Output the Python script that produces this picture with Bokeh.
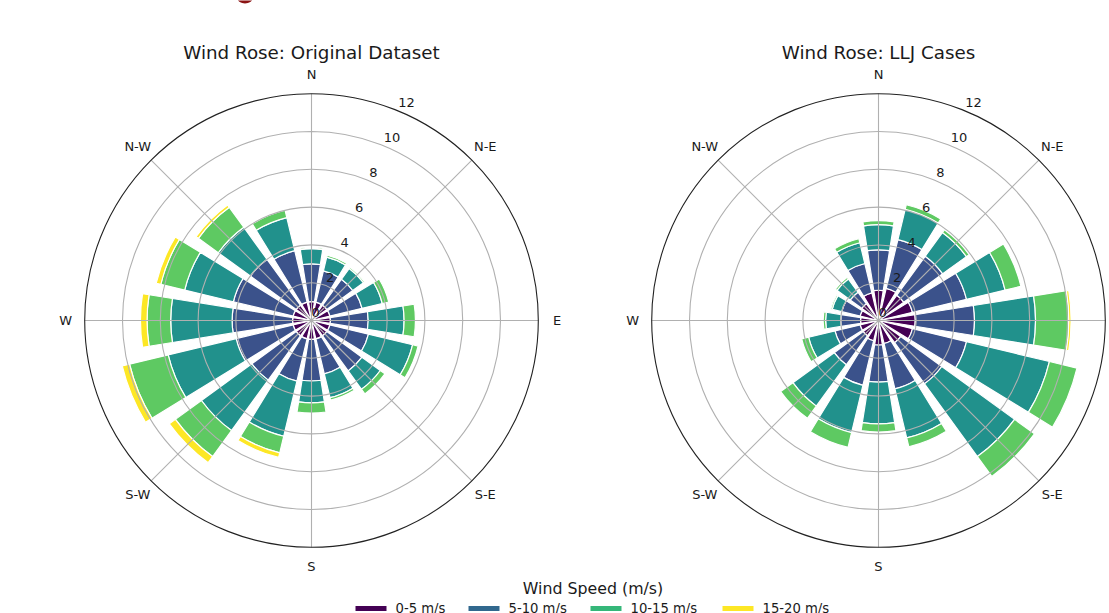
import numpy as np
from bokeh.plotting import figure
from bokeh.models import Range1d
from bokeh.core.properties import value
from bokeh.embed import file_html
from bokeh.resources import INLINE

# ---- data: frequency (%) per direction sector and wind-speed bin ----
directions = ["N", "NNE", "NE", "ENE", "E", "ESE", "SE", "SSE",
              "S", "SSW", "SW", "WSW", "W", "WNW", "NW", "NNW"]
speed_bins = ["0-5 m/s", "5-10 m/s", "10-15 m/s", "15-20 m/s", "20+ m/s"]
legend_labels = ["0-5 m/s", "5-10 m/s", "10-15 m/s", "15-20 m/s"]

orig_0_5 =   [1.00, 1.00, 1.00, 1.00, 1.00, 1.00, 1.00, 1.00, 1.00, 1.00, 1.00, 1.00, 1.00, 1.00, 1.00, 1.00]
orig_5_10 =  [2.00, 1.70, 1.70, 1.75, 2.00, 2.10, 2.30, 1.90, 2.20, 2.30, 2.90, 3.10, 3.20, 3.25, 3.00, 2.80]
orig_10_15 = [0.80, 0.75, 0.70, 1.10, 1.90, 2.40, 1.20, 1.30, 1.16, 3.00, 3.30, 3.70, 3.25, 2.65, 2.10, 1.80]
orig_15_20 = [0.07, 0.10, 0.08, 0.35, 0.60, 0.30, 0.30, 0.13, 0.54, 0.90, 1.70, 2.10, 1.25, 1.30, 1.30, 0.40]
orig_20p =   [0.00, 0.00, 0.00, 0.00, 0.00, 0.00, 0.00, 0.00, 0.00, 0.25, 0.40, 0.40, 0.35, 0.25, 0.15, 0.00]

llj_0_5 =    [1.60, 1.75, 1.65, 1.85, 1.95, 1.85, 1.45, 1.25, 1.30, 1.10, 1.00, 1.00, 0.95, 1.00, 1.10, 1.50]
llj_5_10 =   [2.14, 2.65, 2.55, 2.94, 3.13, 2.94, 2.69, 2.47, 1.96, 2.43, 1.90, 1.37, 1.05, 1.00, 0.75, 1.60]
llj_10_15 =  [1.33, 1.65, 1.55, 2.10, 3.23, 4.51, 4.76, 2.67, 2.21, 2.57, 2.70, 1.43, 0.80, 0.52, 0.87, 1.13]
llj_15_20 =  [0.21, 0.25, 0.18, 0.86, 1.76, 1.50, 1.30, 0.48, 0.43, 0.80, 0.80, 0.38, 0.13, 0.08, 0.10, 0.22]
llj_20p =    [0.00, 0.00, 0.00, 0.00, 0.12, 0.00, 0.00, 0.00, 0.00, 0.00, 0.00, 0.00, 0.00, 0.00, 0.00, 0.00]

radial_ticks = [0, 2, 4, 6, 8, 10, 12]
compass_labels = ["N", "N-E", "E", "S-E", "S", "S-W", "W", "N-W"]

bar_colors = ["#440154", "#3b528b", "#21918c", "#5ec962", "#fde725"]
legend_colors = ["#440154", "#31688e", "#35b779", "#fde725"]

FONT = value("DejaVu Sans")
W, H = 1109, 613
S = 18.9                 # screen pixels per percent
LEFT_PX, CENTER_Y_PX = 311, 320
RIGHT_PX = 878
R_MAX = 12


def px(xp):
    return (xp - LEFT_PX) / S


def py(yp):
    return (CENTER_Y_PX - yp) / S


X_LO, X_HI = px(0), px(W)

p = figure(width=W, height=H,
           x_range=Range1d(X_LO, X_HI), y_range=Range1d(py(H), py(0)),
           min_border=0, toolbar_location=None, output_backend="svg",
           x_axis_location=None, y_axis_location=None, title_location=None,
           outline_line_color=None, background_fill_color="white",
           border_fill_color="white")
p.xgrid.visible = False
p.ygrid.visible = False

sector = 360.0 / len(directions)
opening = 0.8 * sector


def wind_rose(cx, cy, bins, title):
    freq = np.array(bins, dtype=float)          # (bins, directions)
    top = np.cumsum(freq, axis=0)
    bottom = top - freq
    compass = np.arange(len(directions)) * sector
    mid = np.radians(90.0 - compass)
    half = np.radians(opening / 2.0)
    for k in range(freq.shape[0]):
        keep = freq[k] > 0
        n = int(keep.sum())
        if n == 0:
            continue
        p.annular_wedge(x=[cx] * n, y=[cy] * n,
                        inner_radius=bottom[k][keep], outer_radius=top[k][keep],
                        start_angle=(mid - half)[keep], end_angle=(mid + half)[keep],
                        fill_color=bar_colors[k], line_color="white", line_width=1.2)

    # grid on top of the bars
    rings = radial_ticks[1:-1]
    p.circle(x=[cx] * len(rings), y=[cy] * len(rings), radius=rings,
             fill_color=None, line_color="#b0b0b0", line_width=1.1)
    spokes = np.radians(90.0 - np.arange(8) * 45.0)
    p.segment(x0=[cx] * 8, y0=[cy] * 8,
              x1=cx + R_MAX * np.cos(spokes), y1=cy + R_MAX * np.sin(spokes),
              line_color="#b0b0b0", line_width=1.1)
    p.circle(x=[cx], y=[cy], radius=[R_MAX], fill_color=None,
             line_color="#222222", line_width=1.1)

    # radial tick labels along 22.5 degrees
    ang = np.radians(90.0 - 22.5)
    rt = np.array(radial_ticks, dtype=float)
    p.text(x=cx + rt * np.cos(ang), y=cy + rt * np.sin(ang) + 4 / S,
           text=[str(t) for t in radial_ticks], text_font=FONT,
           text_font_size="13px", text_color="#1a1a1a",
           text_align="left", text_baseline="bottom")

    # compass labels (only those that fall inside the page)
    lab_r = 13.0
    lx = cx + lab_r * np.cos(spokes)
    ly = cy + lab_r * np.sin(spokes)
    inside = (lx > X_LO) & (lx < X_HI)
    p.text(x=lx[inside], y=ly[inside],
           text=[t for t, ok in zip(compass_labels, inside) if ok],
           text_font=FONT, text_font_size="13px",
           text_color="#1a1a1a", text_align="center", text_baseline="middle")

    p.text(x=[cx], y=[py(51.5)], text=[title], text_font=FONT,
           text_font_size="18.3px", text_color="#1a1a1a",
           text_align="center", text_baseline="alphabetic")


wind_rose(0.0, 0.0, [orig_0_5, orig_5_10, orig_10_15, orig_15_20, orig_20p],
          "Wind Rose: Original Dataset")
wind_rose(px(RIGHT_PX), 0.0, [llj_0_5, llj_5_10, llj_10_15, llj_15_20, llj_20p],
          "Wind Rose: LLJ Cases")

# legend below both roses
p.text(x=[px(592.5)], y=[py(587.5)], text=["Wind Speed (m/s)"], text_font=FONT,
       text_font_size="15.8px", text_color="#1a1a1a",
       text_align="center", text_baseline="alphabetic")
handle_x = [355, 468, 590, 722]
for hx, lab, col in zip(handle_x, legend_labels, legend_colors):
    p.segment(x0=[px(hx)], y0=[py(608)], x1=[px(hx + 31)], y1=[py(608)],
              line_color=col, line_width=5)
    p.text(x=[px(hx + 40)], y=[py(607.5)], text=[lab], text_font=FONT,
           text_font_size="13.2px", text_color="#1a1a1a",
           text_align="left", text_baseline="alphabetic")

# small mark cut by the top edge
p.ellipse(x=[px(244.5)], y=[py(-2)], width=15 / S, height=10 / S,
          fill_color="#8b1414", line_color=None)

open("out.html", "w").write(file_html(p, INLINE))
